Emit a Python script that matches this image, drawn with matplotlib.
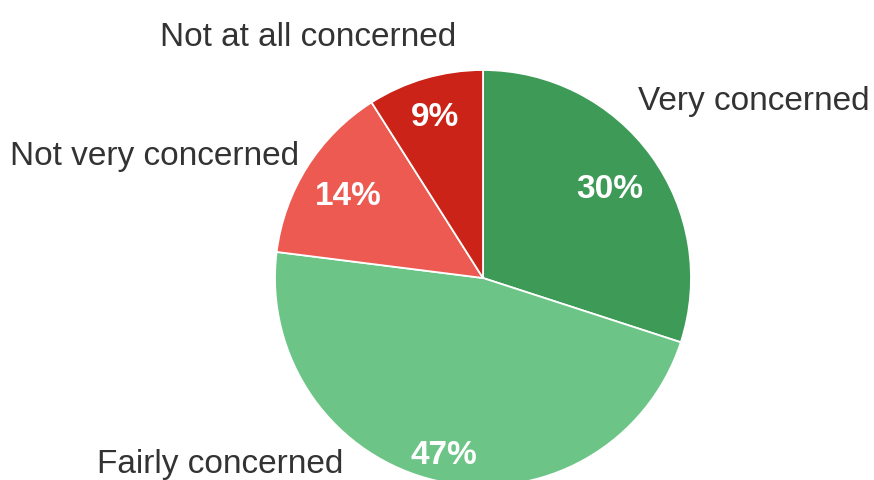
import matplotlib.pyplot as plt
import matplotlib.transforms as mtransforms
import numpy as np

labels = ['Very concerned', 'Fairly concerned', 'Not very concerned', 'Not at all concerned']
shares = [30, 47, 14, 9]
colors = ['#3d9a57', '#6cc587', '#ec5a51', '#cb2317']

# distance of each percent label from the centre, as a fraction of the radius
pct_dist = [0.755, 0.855, 0.77, 0.826]
# outside label anchors (x, y, ha) in data units of the unit-radius pie
name_pos = [(0.745, 0.87, 'left'), (-1.264, -0.875, 'center'),
            (-1.577, 0.606, 'center'), (-0.841, 1.178, 'center')]

plt.rcParams['font.family'] = ['Liberation Sans', 'DejaVu Sans']

W, H = 874, 480
cx, cy, r = 483, 278, 208
fig = plt.figure(figsize=(W / 100, H / 100), dpi=100)
ax = fig.add_axes([(cx - r) / W, (H - cy - r) / H, 2 * r / W, 2 * r / H])

wedges, _ = ax.pie(shares, colors=colors, startangle=90, counterclock=False,
                   radius=1, wedgeprops=dict(edgecolor='white', linewidth=1.3))
ax.set_xlim(-1, 1)
ax.set_ylim(-1, 1)
ax.set_aspect('equal')
ax.axis('off')

# nudge text down a little so the glyphs sit visually centred
tr = ax.transData + mtransforms.ScaledTranslation(0, -3 / 72, fig.dpi_scale_trans)

for w, v, d in zip(wedges, shares, pct_dist):
    mid = np.deg2rad((w.theta1 + w.theta2) / 2)
    ax.text(d * np.cos(mid), d * np.sin(mid), f'{v}%', ha='center', va='center',
            color='white', fontsize=24, fontweight='bold', transform=tr)

for name, (x, y, ha) in zip(labels, name_pos):
    ax.text(x, y, name, ha=ha, va='center', color='#333333', fontsize=24,
            clip_on=False, transform=tr)

fig.savefig('out.png', dpi=100)
